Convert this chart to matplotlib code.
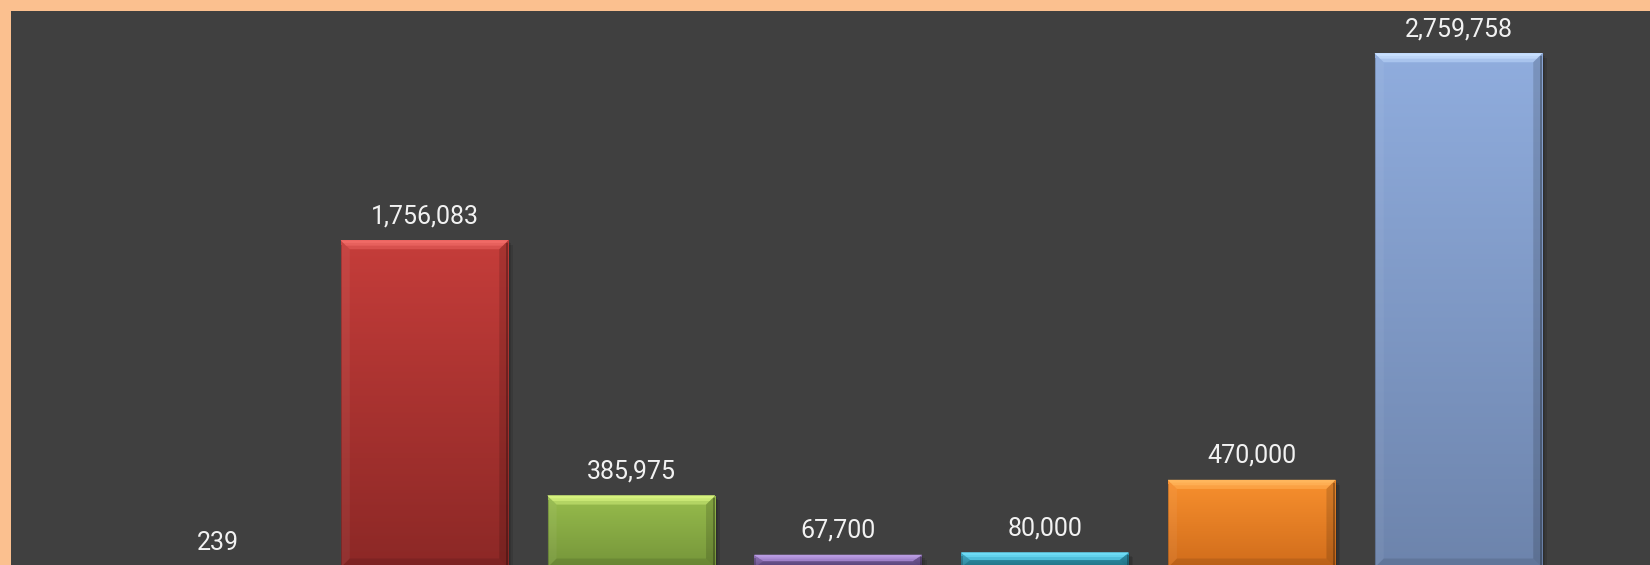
import matplotlib
matplotlib.use('Agg')
import matplotlib.pyplot as plt
import numpy as np
from matplotlib.patches import Rectangle, Polygon
from matplotlib.colors import LinearSegmentedColormap, to_rgb

# ---- data ----
categories = ['Item 1', 'Item 2', 'Item 3', 'Item 4', 'Item 5', 'Item 6', 'Item 7']
values = [239, 1756083, 385975, 67700, 80000, 470000, 2759758]
top_colors = ['#5B8BC7', '#C53D3A', '#97BC4C', '#8C6CB6', '#35A8C4', '#F8902E', '#90ADDE']
bottom_colors = ['#3F6696', '#8C2826', '#75953A', '#5E4980', '#267C92', '#D06C1B', '#6D84AC']
highlight_colors = ['#9CC2F0', '#F06A66', '#D6F27E', '#B99CE2', '#6EDCF6', '#FFB65C', '#C8E0FF']

W, H, DPI = 1650, 565, 100
PEACH = '#FBC08F'
DARK = '#404040'

fig = plt.figure(figsize=(W / DPI, H / DPI), dpi=DPI, facecolor=PEACH)
fig.patches.append(Rectangle((11 / W, 0), 1 - 11 / W, (H - 11) / H,
                             transform=fig.transFigure, facecolor=DARK,
                             edgecolor='none', zorder=-10))

# plot area (zero line sits just below the visible bottom edge)
left_px, right_px = 114.3, 1561.9
top_px, zero_px = 8.5, 567.5
ax = fig.add_axes([left_px / W, (H - zero_px) / H,
                   (right_px - left_px) / W, (zero_px - top_px) / H])
ax.set_facecolor('none')
ax.axis('off')
ax.set_zorder(5)

x = np.arange(len(values))
bar_w = 0.81
bars = ax.bar(x, values, width=bar_w, color='none', edgecolor='none', zorder=3)
ax.set_xlim(-0.5, len(values) - 0.5)
ax.set_ylim(0, 3000000)
fig.canvas.draw()

# pixel -> data conversions
px_x = (ax.transData.transform((1, 0))[0] - ax.transData.transform((0, 0))[0])
px_y = (ax.transData.transform((0, 1e6))[1] - ax.transData.transform((0, 0))[1]) / 1e6
bx = 9 / px_x
by = 9 / px_y

grad = np.linspace(0, 1, 256).reshape(-1, 1)

def mix(c, other, t):
    a = np.array(to_rgb(c)); b = np.array(to_rgb(other))
    return tuple(a * (1 - t) + b * t)

for i, rect in enumerate(bars):
    x0 = rect.get_x(); w = rect.get_width(); h = rect.get_height()
    x1 = x0 + w
    # soft drop shadow
    for k, a in enumerate([0.10, 0.10, 0.10]):
        off = (k + 1) * 1.6
        ax.add_patch(Rectangle((x0 + off / px_x, -off / px_y), w, h,
                               facecolor='black', alpha=a, edgecolor='none', zorder=2))
    cmap = LinearSegmentedColormap.from_list('g', [bottom_colors[i], top_colors[i]])
    im = ax.imshow(grad, cmap=cmap, aspect='auto', origin='lower',
                   extent=[x0, x1, 0, h], zorder=3, interpolation='bilinear')
    im.set_clip_path(rect)
    bxx = min(bx, w / 2)
    byy = min(by, h / 2)
    tc = top_colors[i]
    hc = highlight_colors[i]
    # top bevel (highlight), fading inward
    ax.add_patch(Polygon([(x0, h), (x1, h), (x1 - bxx, h - byy), (x0 + bxx, h - byy)],
                         closed=True, facecolor=mix(hc, tc, 0.55),
                         edgecolor='none', zorder=4))
    ax.add_patch(Polygon([(x0, h), (x1, h), (x1 - bxx * 0.6, h - byy * 0.6),
                          (x0 + bxx * 0.6, h - byy * 0.6)],
                         closed=True, facecolor=mix(hc, tc, 0.2),
                         edgecolor='none', zorder=4))
    ax.add_patch(Polygon([(x0, h), (x1, h), (x1 - bxx * 0.3, h - byy * 0.3),
                          (x0 + bxx * 0.3, h - byy * 0.3)],
                         closed=True, facecolor=hc,
                         edgecolor='none', zorder=4))
    # left bevel
    ax.add_patch(Polygon([(x0, h), (x0 + bxx, h - byy), (x0 + bxx, byy), (x0, 0)],
                         closed=True, facecolor='white', alpha=0.05,
                         edgecolor='none', zorder=4))
    ax.add_patch(Rectangle((x0, 0), 1.5 / px_x, h - byy * 0.5,
                           facecolor='black', alpha=0.18, edgecolor='none', zorder=4))
    # right bevel (shade)
    ax.add_patch(Polygon([(x1, h), (x1 - bxx, h - byy), (x1 - bxx, byy), (x1, 0)],
                         closed=True, facecolor='black', alpha=0.14,
                         edgecolor='none', zorder=4))
    ax.add_patch(Rectangle((x1 - 2 / px_x, 0), 2 / px_x, h - byy * 0.3,
                           facecolor='black', alpha=0.25, edgecolor='none', zorder=4))
    # bottom bevel
    ax.add_patch(Polygon([(x0, 0), (x1, 0), (x1 - bxx, byy), (x0 + bxx, byy)],
                         closed=True, facecolor='black', alpha=0.10,
                         edgecolor='none', zorder=4))
    # value label
    ax.annotate(f'{values[i]:,}', (rect.get_x() + w / 2, h), xytext=(0, 12.3),
                textcoords='offset points', ha='center', va='baseline',
                fontsize=18, color='#F2F2F2',
                family=['Roboto', 'DejaVu Sans'], zorder=6,
                annotation_clip=False)

ax.set_xlim(-0.5, len(values) - 0.5)
ax.set_ylim(0, 3000000)

fig.savefig('out.png', dpi=DPI, facecolor=PEACH)
